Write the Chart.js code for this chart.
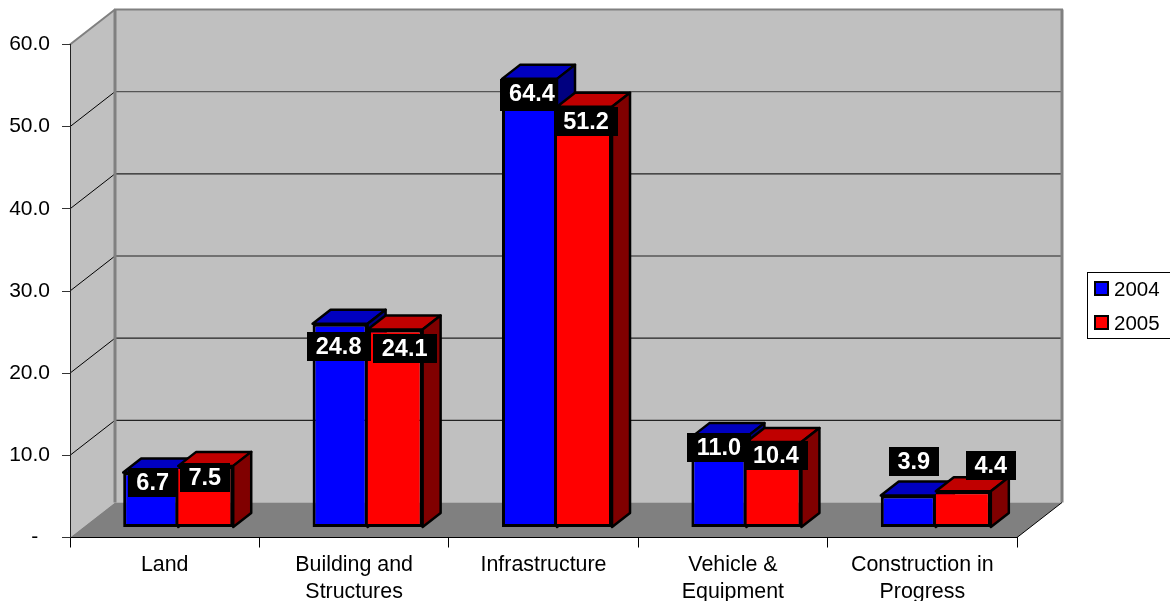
<!DOCTYPE html>
<html>
<head>
<meta charset="utf-8">
<style>html,body{margin:0;padding:0;background:#fff;overflow:hidden}canvas{display:block}</style>
<script src="https://cdn.jsdelivr.net/npm/chart.js@4"></script>
</head>
<body>
<canvas id="c" width="1170" height="601" style="width:1170px;height:601px"></canvas>
<script>
// Data
const categories = [['Land'], ['Building and', 'Structures'], ['Infrastructure'], ['Vehicle &', 'Equipment'], ['Construction in', 'Progress']];
const seriesNames = ['2004', '2005'];
const values2004 = [6.7, 24.8, 54.6, 11.0, 3.9];   // drawn heights, as pictured
const values2005 = [7.5, 24.1, 51.2, 10.4, 4.4];
const labels2004 = ['6.7', '24.8', '64.4', '11.0', '3.9']; // printed labels, as pictured
const labels2005 = ['7.5', '24.1', '51.2', '10.4', '4.4'];
const yTicks = [0, 10, 20, 30, 40, 50, 60];

// Layout of the pseudo-3D look
const WALL = {dx: 45, dy: -35};
const BAR_SHIFT = {dx: 13.5, dy: -10};
const BAR_DEPTH = {dx: 18, dy: -14};
const LABEL_OFFSETS = [
  [[2, 10], [-1.5, 23], [2.5, 15], [0, 10.5], [5.5, -34]],
  [[-1, 12], [9.5, 19], [1.5, 15], [2, 13.5], [27.5, -26]]
];
const LABEL_BOX_OVERRIDE = {'0:2': {w: 56, h: 32}};
const COLORS = [
  {front: '#0000ff', top: '#0000c0', side: '#000080'},
  {front: '#ff0000', top: '#c00000', side: '#800000'}
];
const FONT = '"Liberation Sans", Arial, sans-serif';

function poly(ctx, pts, fill, stroke, lw) {
  ctx.beginPath();
  pts.forEach((p, i) => i ? ctx.lineTo(p[0], p[1]) : ctx.moveTo(p[0], p[1]));
  ctx.closePath();
  if (fill) { ctx.fillStyle = fill; ctx.fill(); }
  if (stroke) { ctx.strokeStyle = stroke; ctx.lineWidth = lw; ctx.lineJoin = 'round'; ctx.stroke(); }
}
function seg(ctx, x1, y1, x2, y2, color, lw) {
  ctx.beginPath(); ctx.moveTo(x1, y1); ctx.lineTo(x2, y2);
  ctx.strokeStyle = color; ctx.lineWidth = lw; ctx.stroke();
}

const walls3d = {
  id: 'walls3d',
  beforeDraw(chart) {
    const {ctx, chartArea: a, scales: {y}} = chart;
    const d = WALL;
    ctx.save();
    const L = a.left, R = a.right, T = y.getPixelForValue(60), B = y.getPixelForValue(0);
    poly(ctx, [[L, T], [L + d.dx, T + d.dy], [L + d.dx, B + d.dy], [L, B]], '#c0c0c0');
    poly(ctx, [[L + d.dx, T + d.dy], [R + d.dx, T + d.dy], [R + d.dx, B + d.dy], [L + d.dx, B + d.dy]], '#c0c0c0');
    poly(ctx, [[L, B], [L + d.dx, B + d.dy], [R + d.dx, B + d.dy], [R, B]], '#808080');
    yTicks.slice(1, -1).forEach(v => {
      const p = y.getPixelForValue(v);
      seg(ctx, L, p, L + d.dx, p + d.dy, '#000', 1);
      seg(ctx, L + d.dx, p + d.dy, R + d.dx, p + d.dy, v === 50 ? '#555' : '#222', 1.2);
    });
    seg(ctx, L, T, L + d.dx, T + d.dy, '#808080', 2);
    seg(ctx, L + d.dx - 1, T + d.dy, R + d.dx + 1, T + d.dy, '#808080', 2);
    seg(ctx, L + d.dx, T + d.dy, L + d.dx, B + d.dy, '#808080', 3);
    seg(ctx, R + d.dx, T + d.dy, R + d.dx, B + d.dy, '#808080', 3);
    seg(ctx, R, B, R + d.dx, B + d.dy, '#000', 1);
    ctx.restore();
  },
  beforeDatasetsDraw(chart) {
    const {ctx} = chart;
    // Draw 2004 first, then 2005, so the later series overlaps the earlier one.
    chart.data.datasets.forEach((ds, index) => {
      const meta = chart.getDatasetMeta(index);
      const c = COLORS[index];
      ctx.save();
      ctx.translate(BAR_SHIFT.dx, BAR_SHIFT.dy);
      meta.data.forEach(el => {
        const p = el.getProps(['x', 'y', 'base', 'width'], true);
        const l = p.x - p.width / 2, r = p.x + p.width / 2;
        const dx = BAR_DEPTH.dx, dy = BAR_DEPTH.dy;
        poly(ctx, [[l, p.y], [l + dx, p.y + dy], [r + dx, p.y + dy], [r, p.y]], c.top, '#000', 2.5);
        poly(ctx, [[r, p.y], [r + dx, p.y + dy], [r + dx, p.base + dy], [r, p.base]], c.side, '#000', 2.5);
        el.draw(ctx);
      });
      ctx.restore();
    });
    const printed = [labels2004, labels2005];
    ctx.save();
    ctx.font = 'bold 23.5px ' + FONT;
    ctx.textAlign = 'center';
    ctx.textBaseline = 'middle';
    printed.forEach((list, ds) => {
      const meta = chart.getDatasetMeta(ds);
      list.forEach((txt, i) => {
        const el = meta.data[i];
        const p = el.getProps(['x', 'y'], true);
        const cx = p.x + BAR_SHIFT.dx + LABEL_OFFSETS[ds][i][0];
        const cy = p.y + BAR_SHIFT.dy + LABEL_OFFSETS[ds][i][1];
        const w = txt.length > 3 ? 64 : 50, h = 29;
        const o = LABEL_BOX_OVERRIDE[ds + ':' + i] || {w, h};
        ctx.fillStyle = '#000';
        ctx.fillRect(Math.round(cx - w / 2), Math.round(cy - h / 2), o.w, o.h);
        ctx.fillStyle = '#fff';
        ctx.fillText(txt, cx, cy + 1);
      });
    });
    ctx.restore();
    return false;
  },
  afterDraw(chart) {
    const {ctx} = chart;
    ctx.save();
    ctx.strokeStyle = '#000'; ctx.lineWidth = 1;
    ctx.strokeRect(1087.5, 272.5, 90, 66);
    ctx.font = '20.5px ' + FONT;
    ctx.textBaseline = 'middle';
    ctx.textAlign = 'left';
    chart.data.datasets.forEach((ds, i) => {
      const y = 289 + i * 34;
      ctx.fillStyle = ds.backgroundColor;
      ctx.strokeStyle = '#000'; ctx.lineWidth = 2;
      ctx.fillRect(1095, y - 7, 13, 13);
      ctx.strokeRect(1095, y - 7, 13, 13);
      ctx.fillStyle = '#000';
      ctx.fillText(ds.label, 1114, y + 1);
    });
    ctx.restore();
  }
};

new Chart(document.getElementById('c'), {
  type: 'bar',
  data: {
    labels: categories,
    datasets: [
      {label: seriesNames[0], data: values2004, backgroundColor: COLORS[0].front, borderColor: '#000', borderWidth: 3, borderSkipped: false},
      {label: seriesNames[1], data: values2005, backgroundColor: COLORS[1].front, borderColor: '#000', borderWidth: {left: 0, right: 3, top: 3, bottom: 3}, borderSkipped: false}
    ]
  },
  options: {
    responsive: false,
    animation: false,
    devicePixelRatio: 1,
    layout: {padding: {top: 44.5, right: 153, left: 0, bottom: 0}},
    categoryPercentage: 0.581,
    barPercentage: 1,
    plugins: {legend: {display: false}, tooltip: {enabled: false}, title: {display: false}},
    scales: {
      x: {
        afterFit(s) { s.height = 63.5; },
        border: {color: '#000', width: 1},
        grid: {drawOnChartArea: false, color: '#000', tickLength: 10, lineWidth: 1},
        ticks: {color: '#000', font: {family: FONT, size: 21.4, lineHeight: 1.27}, padding: 4, maxRotation: 0, autoSkip: false}
      },
      y: {
        min: 0, max: 60,
        afterFit(s) { s.width = 70; },
        afterBuildTicks(s) { s.ticks = yTicks.map(v => ({value: v})); },
        border: {color: '#222', width: 1},
        grid: {drawOnChartArea: false, color: '#333', tickLength: 8, lineWidth: 1},
        ticks: {
          color: '#000',
          font: {family: FONT, size: 21},
          padding: 12,
          callback: v => v === 0 ? '-  ' : v.toFixed(1)
        }
      }
    }
  },
  plugins: [walls3d]
});
</script>
</body>
</html>
